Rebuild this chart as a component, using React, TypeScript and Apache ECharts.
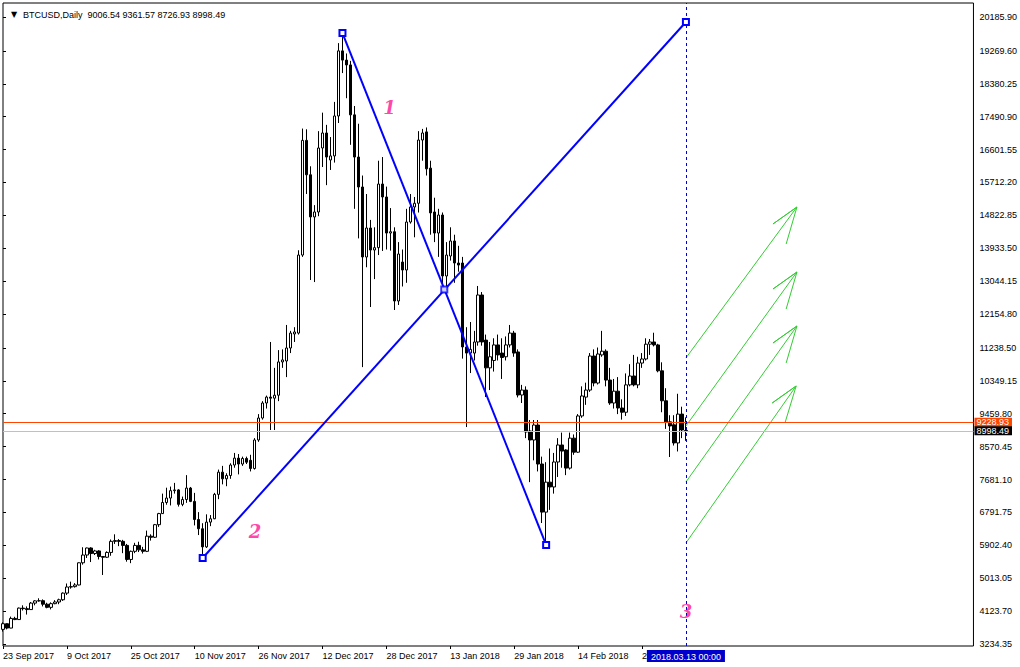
import React, { useEffect, useRef } from 'react';
import * as echarts from 'echarts';

// ---------- data ----------
const startDate = Date.UTC(2017, 8, 23);
const monthNames = ['Jan', 'Feb', 'Mar', 'Apr', 'May', 'Jun', 'Jul', 'Aug', 'Sep', 'Oct', 'Nov', 'Dec'];
const categoryCount = 244;
const categories: string[] = Array.from({ length: categoryCount }, (_, i) => {
  const d = new Date(startDate + i * 86400000);
  return `${d.getUTCDate()} ${monthNames[d.getUTCMonth()]} ${d.getUTCFullYear()}`;
});

const opens = [
  3630, 3783, 3665, 3926, 3895, 4205, 4190, 4165, 4340, 4400, 4405, 4310, 4225, 4325, 4370, 4430,
  4610, 4775, 4785, 4830, 5430, 5640, 5830, 5680, 5750, 5600, 5580, 5710, 6010, 6030, 6010, 5900,
  5520, 5740, 5900, 5780, 5740, 6150, 6120, 6460, 6760, 7060, 7180, 7380, 7400, 7010, 7140, 7450,
  7090, 6600, 6350, 5860, 6530, 6620, 7280, 7880, 7700, 7790, 8073, 8260, 8100, 8250, 8200, 7980,
  8750, 9344, 9750, 9910, 9880, 9960, 10860, 10886, 11237, 11617, 11640, 13750, 16850, 15920, 14780, 14914,
  16644, 17050, 16320, 16430, 17510, 19270, 19020, 18890, 17540, 16400, 15590, 13697, 14481, 13886, 13950, 15670,
  15320, 14345, 14380, 12508, 13560, 13346, 14643, 15050, 15150, 16860, 17080, 16100, 14914, 14345, 14832, 13184,
  13724, 14130, 13535, 13535, 11265, 11100, 11100, 11400, 12670, 11450, 10700, 10900, 11320, 11100, 11000, 11320,
  11640, 11130, 9966, 10100, 8993, 8750, 9155, 8100, 6800, 7610, 7480, 8155, 8615, 8480, 7990, 8800,
  8420, 9400, 9910, 10100, 11020, 10290, 11050, 11150, 10370, 9750, 10070, 9615, 9500, 10240, 10480, 10240,
  10830, 10940, 11340, 11400, 11320, 10620, 9810, 9240, 9160, 8670, 9450, 9006.54,
];
const highs = [
  3820, 3790, 3975, 3970, 4220, 4280, 4250, 4370, 4420, 4470, 4440, 4350, 4360, 4420, 4460, 4630,
  4870, 4920, 4880, 5440, 5850, 5840, 5850, 5780, 5770, 5610, 5740, 6060, 6200, 6070, 6050, 5940,
  5760, 5970, 6000, 5860, 6300, 6200, 6480, 6780, 7300, 7460, 7490, 7590, 7420, 7220, 7800, 7480,
  7320, 6800, 6500, 6740, 6720, 7320, 7950, 8050, 7850, 8120, 8400, 8370, 8300, 8300, 8350, 8800,
  9450, 9800, 9950, 11400, 10700, 11180, 11200, 11860, 11700, 11800, 13880, 17170, 17150, 16150, 15100, 17100,
  17600, 17270, 16940, 17890, 19480, 19750, 19200, 19000, 17780, 17300, 15900, 15400, 14700, 14500, 16300, 16400,
  15600, 15020, 14500, 14100, 13900, 15000, 15400, 15320, 17100, 17160, 17200, 16300, 15300, 15000, 14900, 14100,
  14500, 14300, 14000, 13700, 11800, 11940, 11700, 12914, 12750, 11600, 11400, 11500, 11600, 11500, 11550, 11860,
  11700, 11200, 10240, 10200, 9290, 9290, 9290, 8300, 8150, 8520, 8400, 8800, 8950, 8500, 8950, 8900,
  9450, 10200, 10300, 11100, 11200, 11250, 11700, 11200, 10700, 10400, 10450, 9850, 10550, 10800, 11050, 11000,
  11100, 11500, 11480, 11650, 11350, 10850, 10150, 9420, 9420, 10000, 9650, 9361.57,
];
const lows = [
  3570, 3630, 3660, 3880, 3885, 4140, 4030, 4160, 4280, 4380, 4250, 4200, 4170, 4310, 4310, 4400,
  4560, 4730, 4760, 4820, 5380, 5560, 5450, 5640, 5520, 5100, 5560, 5620, 5940, 5880, 5690, 5460,
  5420, 5690, 5720, 5680, 5720, 6030, 6100, 6400, 6750, 7000, 6980, 7300, 6950, 6960, 7050, 7070,
  6440, 6180, 5560, 5830, 6420, 6610, 7150, 7550, 7500, 7700, 8000, 7820, 8050, 8100, 7900, 7950,
  8700, 9300, 9600, 9020, 9020, 9800, 10700, 10450, 11100, 11400, 11600, 13700, 15400, 13075, 13020, 14800,
  16130, 15640, 16050, 16250, 17320, 18670, 17990, 16730, 15000, 14200, 10720, 13420, 12345, 13100, 13750, 13860,
  13900, 13870, 12264, 12400, 12900, 13000, 14600, 14230, 14900, 16300, 15900, 14300, 14100, 13700, 12900, 12800,
  13600, 13000, 13300, 10950, 9100, 10560, 10900, 11300, 11300, 9912, 10100, 10600, 10900, 10400, 10900, 11250,
  11000, 9900, 9750, 8800, 7610, 8200, 7900, 6505, 5912, 6860, 7300, 7750, 8000, 7800, 7950, 8350,
  8400, 9350, 9700, 10050, 10200, 10250, 11000, 10200, 9700, 9600, 9450, 9300, 9400, 10200, 10200, 10150,
  10700, 10900, 11050, 11280, 10580, 9500, 9050, 8290, 8600, 8440, 8800, 8726.93,
];
const closes = [
  3783, 3665, 3926, 3895, 4205, 4190, 4165, 4340, 4400, 4405, 4310, 4225, 4325, 4370, 4430, 4610,
  4775, 4785, 4830, 5430, 5640, 5830, 5680, 5750, 5600, 5580, 5710, 6010, 6030, 6010, 5900, 5520,
  5740, 5900, 5780, 5740, 6150, 6120, 6460, 6760, 7060, 7180, 7380, 7400, 7010, 7140, 7450, 7090,
  6600, 6350, 5860, 6530, 6620, 7280, 7880, 7700, 7790, 8073, 8260, 8100, 8250, 8150, 7980, 8750,
  9344, 9750, 9910, 9880, 9960, 10860, 10914, 11237, 11640, 11670, 13750, 16850, 15920, 14780, 14914, 16644,
  17050, 16400, 16430, 17510, 19270, 19020, 18890, 17540, 16400, 15590, 13697, 14481, 13886, 13950, 15670, 15320,
  14345, 14380, 12508, 13778, 13346, 14643, 15050, 15150, 16860, 17050, 16080, 14890, 14345, 14832, 13184, 13750,
  14130, 13535, 13480, 11265, 11100, 11200, 11400, 12670, 11400, 10700, 11000, 11320, 11050, 10980, 11320, 11640,
  11100, 9966, 10100, 8966, 8750, 9155, 8100, 6800, 7610, 7480, 8155, 8615, 8450, 7990, 8800, 8420,
  9400, 9940, 10100, 11020, 10290, 11075, 11150, 10370, 9750, 10070, 9615, 9500, 10240, 10480, 10240, 10830,
  10940, 11340, 11400, 11320, 10620, 9810, 9240, 9130, 8670, 9450, 9020, 8998.49,
];

const yTicks = [
  3234.35, 4123.7, 5013.05, 5902.4, 6791.75, 7681.1, 8570.45, 9459.8, 10349.15, 11238.5,
  12154.8, 13044.15, 13933.5, 14822.85, 15712.2, 16601.55, 17490.9, 18380.25, 19269.6, 20185.9,
];

const headerText = 'BTCUSD,Daily  9006.54 9361.57 8726.93 8998.49';
const hLineRed = 9228.93;
const hLineBid = 8998.49;
const vLineIndex = 171;
const vLineLabel = '2018.03.13 00:00';

// trendlines: [index, price]
const trend1 = [[85, 19750], [136, 5912]];
const trend2 = [[50, 5559], [171, 20050]];
const trendMid = [[110.5, 12820]];

// arrows: tail, tip, barb, tip, barb  ([index, price])
const arrowA = [[171, 10966], [198.8, 15049], [192.8, 14590], [198.8, 15049], [196.1, 14049]];
const arrowB = [[171, 9128], [198.8, 13292], [192.8, 12832], [198.8, 13292], [196.1, 12291]];
const arrowC = [[171, 7614], [198.8, 11832], [192.8, 11372], [198.8, 11832], [196.1, 10832]];
const arrowD = [[171, 5965], [198.6, 10210], [192.6, 9750], [198.6, 10210], [195.8, 9209]];

const waveLabels = [[96.8, 17752, '1'], [63.1, 6289, '2'], [171, 4100, '3']];

const Y_MIN = 3180.28;
const Y_MAX = 20564.4;

const FONT = '"Liberation Sans", Arial, sans-serif';

export default function App() {
  const ref = useRef<HTMLDivElement>(null);
  useEffect(() => {
    const chart = echarts.init(ref.current!, null, { renderer: 'svg' });
    const labelInterval = (index: number) => index % 16 === 0 && index <= vLineIndex;
    const candleData = opens.map((o, i) => [o, closes[i], lows[i], highs[i]]);
    const arrowSeries = [arrowA, arrowB, arrowC, arrowD].map((a) => ({
      type: 'line',
      xAxisIndex: 1,
      yAxisIndex: 0,
      data: a,
      symbol: 'none',
      lineStyle: { color: '#32CD32', width: 1 },
      z: 4,
      silent: true,
    }));
    const trendSeries = [trend1, trend2].map((t) => ({
      type: 'line',
      xAxisIndex: 1,
      yAxisIndex: 0,
      data: t,
      symbol: 'rect',
      symbolSize: 6,
      showSymbol: true,
      lineStyle: { color: '#0000FF', width: 2 },
      itemStyle: { color: '#ffffff', borderColor: '#0000FF', borderWidth: 2 },
      z: 5,
      silent: true,
    }));
    const tagLabel = (text: string, bg: string) => ({
      show: true,
      position: 'end',
      formatter: () => text,
      backgroundColor: bg,
      color: '#fff',
      padding: [0, 3, 0, 2],
      lineHeight: 9,
      fontSize: 9,
      distance: 1,
      fontFamily: FONT,
    });
    const option: any = {
      animation: false,
      backgroundColor: '#ffffff',
      textStyle: { fontFamily: FONT },
      title: {
        text: '{t|▼}' + headerText,
        left: 6,
        top: 5,
        textStyle: {
          fontSize: 9,
          fontWeight: 'normal',
          color: '#000',
          fontFamily: FONT,
          rich: { t: { fontSize: 8, width: 12, color: '#000', fontFamily: 'DejaVu Sans' } },
        },
      },
      grid: {
        left: 3,
        top: 3,
        width: 974,
        height: 643,
        show: true,
        borderColor: '#000',
        borderWidth: 1,
        backgroundColor: 'transparent',
      },
      xAxis: [
        {
          type: 'category',
          data: categories,
          boundaryGap: false,
          axisLine: { show: false },
          axisTick: { show: true, interval: labelInterval, length: 3, lineStyle: { color: '#000' } },
          axisLabel: {
            interval: labelInterval,
            align: 'left',
            margin: 5,
            fontSize: 9,
            color: '#000',
            fontFamily: FONT,
          },
          splitLine: { show: false },
        },
        { type: 'value', min: 0, max: categoryCount - 1, show: false },
      ],
      yAxis: {
        type: 'value',
        position: 'right',
        min: Y_MIN,
        max: Y_MAX,
        axisLine: { show: false },
        axisTick: { show: true, length: 3, customValues: yTicks, lineStyle: { color: '#000' } },
        axisLabel: {
          customValues: yTicks,
          formatter: (v: number) => v.toFixed(2),
          margin: 6,
          fontSize: 9,
          color: '#000',
          fontFamily: FONT,
        },
        splitLine: { show: false },
      },
      series: [
        {
          type: 'candlestick',
          data: candleData,
          barWidth: 3,
          clip: false,
          itemStyle: {
            color: '#ffffff',
            color0: '#000000',
            borderColor: '#000000',
            borderColor0: '#000000',
            borderWidth: 1,
          },
          z: 3,
          markLine: {
            symbol: ['none', 'none'],
            silent: true,
            animation: false,
            data: [
              {
                yAxis: hLineRed,
                lineStyle: { color: '#FF4500', width: 1, type: 'solid' },
                label: tagLabel(hLineRed.toFixed(2), '#FF4500'),
              },
              {
                yAxis: hLineBid,
                lineStyle: { color: '#C0C0C0', width: 1, type: 'solid' },
                label: tagLabel(hLineBid.toFixed(2), '#000000'),
              },
              {
                xAxis: categories[vLineIndex],
                lineStyle: { color: '#0000CD', width: 1, type: [3, 3] },
                label: {
                  show: true,
                  position: 'start',
                  formatter: () => vLineLabel,
                  backgroundColor: '#0000CD',
                  color: '#fff',
                  padding: [2, 4, 1, 4],
                  fontSize: 9,
                  distance: 4,
                  fontFamily: FONT,
                },
              },
            ],
          },
        },
        ...trendSeries,
        {
          type: 'scatter',
          xAxisIndex: 1,
          yAxisIndex: 0,
          data: trendMid,
          symbol: 'rect',
          symbolSize: 6,
          itemStyle: { color: '#ffffff', borderColor: '#0000FF', borderWidth: 2 },
          z: 6,
          silent: true,
        },
        ...arrowSeries,
        {
          type: 'scatter',
          xAxisIndex: 1,
          yAxisIndex: 0,
          data: waveLabels,
          symbol: 'circle',
          symbolSize: 1,
          itemStyle: { color: 'transparent' },
          z: 7,
          silent: true,
          label: {
            show: true,
            position: 'inside',
            formatter: (p: any) => p.data[2],
            color: '#FF1493',
            fontSize: 18,
            fontFamily: '"DejaVu Serif", serif',
            fontStyle: 'italic',
            fontWeight: 'bold',
          },
        },
      ],
    };
    chart.setOption(option);
    return () => chart.dispose();
  }, []);
  return (
    <div
      ref={ref}
      style={{ position: 'absolute', left: 0, top: 0, width: 1020, height: 667, background: '#fff' }}
    />
  );
}
